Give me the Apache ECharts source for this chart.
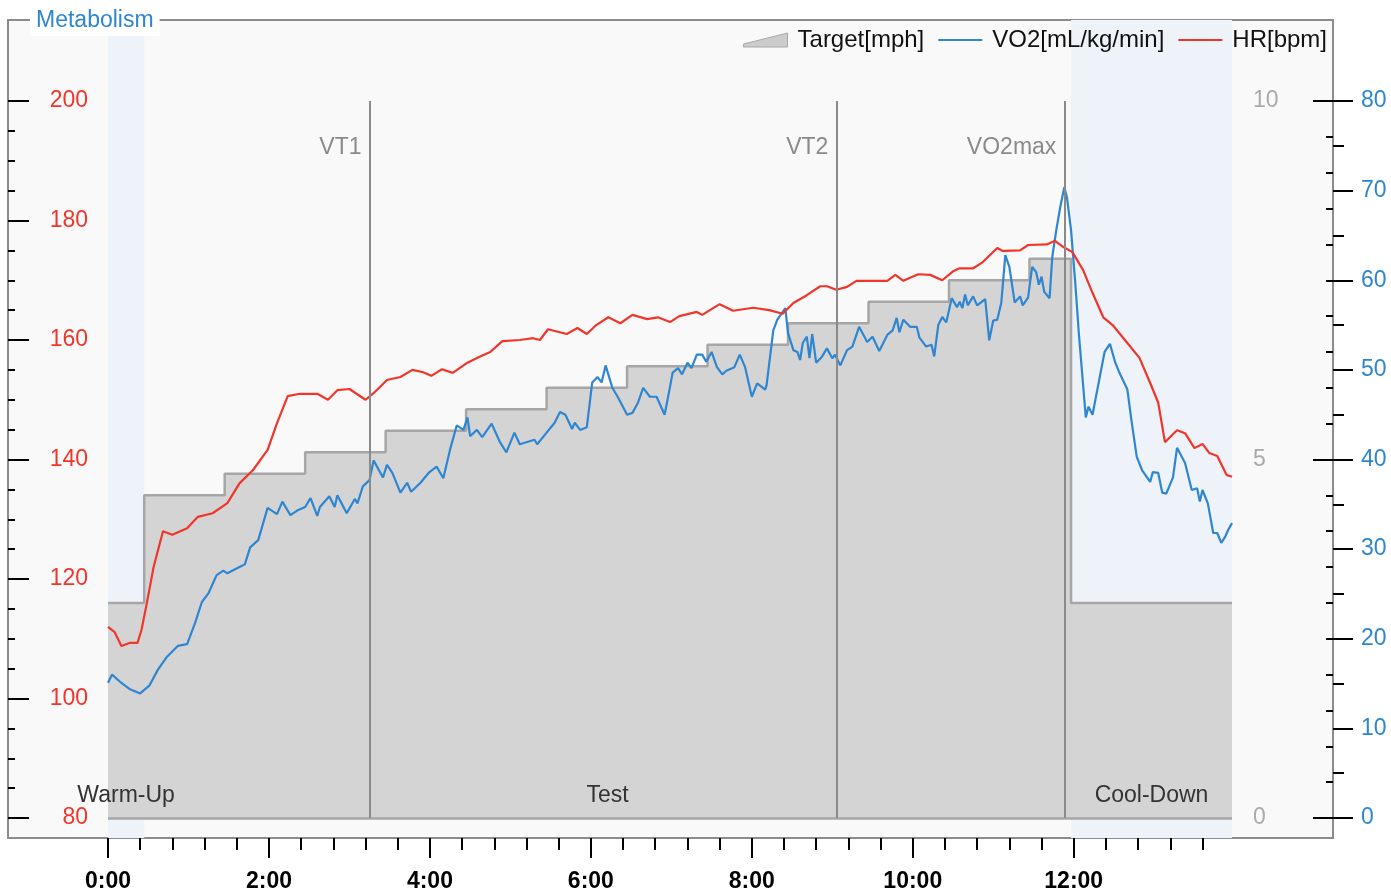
<!DOCTYPE html>
<html><head><meta charset="utf-8">
<script src="https://cdn.jsdelivr.net/npm/echarts@6/dist/echarts.min.js"></script>
<style>html,body{margin:0;padding:0;background:#fff}#c{width:1391px;height:893px}</style>
</head><body><div id="c"></div>
<script>
// ---------- DATA ----------
const T_MAX = 838; // seconds (13:58)
const xTickSeconds = [0, 120, 240, 360, 480, 600, 720];

const targetTimes  = [0, 27, 87, 147, 207, 267, 327, 387, 447, 507, 567, 627, 687, 718, 838];
const targetValues = [3.0, 4.5, 4.8, 5.1, 5.4, 5.7, 6.0, 6.3, 6.6, 6.9, 7.2, 7.5, 7.8, 3.0, 3.0];

const hrTimes = [0,5,10,16,22,25,29,34,41,48,59,67,78,89,98,108,119,126,134,143,156,164,171,180,192,198,208,218,227,235,241,249,257,268,277,285,294,307,317,322,328,342,350,357,364,373,382,391,402,410,419,426,439,443,456,466,481,493,503,511,521,531,536,543,551,558,581,587,593,604,613,622,630,635,645,652,663,667,680,686,700,706,712,719,727,734,742,749,760,769,777,783,788,797,803,810,816,821,827,834,838];
const hrValues = [112.0,111.1,108.8,109.3,109.3,111.5,116,122,128,127.4,128.5,130.4,131,132.7,136,138.2,141.6,146.1,150.6,151,151,150,151.6,151.8,150,151.1,153.3,153.8,155,154.6,154,155.1,154.5,156.2,157.2,158,159.8,160,160.3,160,161.8,161,162,161,162.5,163.8,162.8,164.2,163.5,163.8,163,164,164.7,164.2,166,164.9,165.4,165,164.4,166.2,167.5,169,169,168.4,168.9,169.9,169.9,170.9,169.9,171,170.9,170,171.5,172,172,173,175.4,174.9,175,175.9,176,176.6,175.6,174.7,171.7,167.9,163.8,162.5,159.5,157,152.8,149.5,142.9,144.9,144.4,141.9,142.6,141.1,140.6,137.4,137.1];

const vo2Times = [0,3,9,16,24,31,37,44,52,59,65,70,75,81,86,89,98,102,106,112,119,126,130,136,141,147,151,156,158,165,169,171,178,184,186,190,195,198,205,208,212,218,
223,226,233,239,245,250,255,260,265,268,270,275,279,286,292,297,303,307,318,320,327,333,337,341,346,348,352,357,361,365,368,371,376,380,387,391,395,399,404,409,415,419,421,425,
428,432,435,439,443,446,450,454,458,461,467,471,475,480,484,490,491,496,499,505,507,511,514,516,518,521,523,525,528,532,536,540,542,546,551,555,560,566,570,575,581,585,588,590,593,598,603,605,610,614,616,619,622,625,629,633,635,
637,639,641,645,648,654,657,660,663,666,669,672,676,680,682,686,689,692,694,696,698,702,704,707,710,713,715,718,721,724,729,731,734,738,743,747,751,754,760,763,767,771,777,779,783,786,789,794,797,803,808,812,814,816,820,824,827,830,833,835,838];
const vo2Values = [15.1,16.0,15.2,14.4,13.9,14.8,16.5,18.0,19.2,19.4,21.8,24.1,25.1,27.1,27.6,27.3,28.0,28.3,30.2,31.0,34.6,33.9,35.3,33.8,34.3,34.7,35.7,33.7,34.7,35.9,34.7,36.0,34.0,35.6,35.1,37.0,37.7,39.9,38.0,39.4,38.5,36.3,
37.4,36.4,37.4,38.5,39.2,37.9,41.1,43.8,43.3,44.7,42.6,43.3,42.5,44.0,42.0,40.8,43.0,41.7,42.2,41.7,43.0,44.1,45.3,45.0,43.4,44.1,43.3,43.6,48.6,49.2,48.6,50.5,48.0,47.0,45.0,45.2,46.3,48.0,47.0,47.0,45.0,48.1,49.7,50.2,
49.5,50.8,50.2,51.7,51.7,50.9,52.0,50.3,49.5,49.9,50.3,51.7,50.3,47.0,48.5,47.8,48.3,54.4,55.6,56.9,54.1,52.2,52.0,51.1,53.0,53.7,51.3,54.0,50.8,51.4,52.4,51.3,51.7,50.5,52.2,52.6,54.8,53.1,53.7,52.1,53.9,54.4,55.8,54.2,55.6,54.8,54.8,53.6,52.6,52.8,51.5,55.0,55.9,55.3,58.0,57.0,57.6,
56.9,58.4,57.2,58.2,57.2,57.9,53.3,55.5,55.6,57.5,62.8,61.5,57.5,58.2,57.2,58.1,61.5,60.9,59.5,60.4,58.7,58.0,62.6,65.6,68.2,70.4,69.2,65.6,60.0,53.7,44.7,45.9,45.0,48.1,52.0,52.9,50.8,49.7,47.8,44.4,40.3,38.8,37.5,38.6,38.5,36.3,36.2,38.0,41.3,39.6,36.6,36.8,35.3,36.6,35.1,31.8,31.8,30.7,31.4,32.1,32.9];

const markerNames = ['VT1', 'VT2', 'VO2max'];
const markerTimes = [195, 543, 713];

const phaseNames  = ['Warm-Up', 'Test', 'Cool-Down'];
const phaseStarts = [0, 27, 718];
const phaseEnds   = [27, 718, 838];
const shadedPhases = [0, 2];

// ---------- CHART ----------
const FONT = '"Liberation Sans", Arial, Helvetica, sans-serif';
const BLUE = '#2e86d1', RED = '#f2352a';
const pairs = (t, v) => t.map((x, i) => [x, v[i]]);
function fmt(v) { const m = Math.floor(v / 60), s = Math.round(v % 60); return m + ':' + (s < 10 ? '0' : '') + s; }
const xMinor = [];
for (let s = 24; s < T_MAX; s += 24) if (s % 120 !== 0) xMinor.push(s);

const tickLine = { color: '#000', width: 2 };
const chart = echarts.init(document.getElementById('c'), null, { renderer: 'canvas' });

const frameEl = { type: 'rect', id: 'frame', z: -100, silent: true,
  shape: { x: 8, y: 20, width: 1325, height: 818 },
  style: { fill: '#f9f9f9', stroke: '#8c8c8c', lineWidth: 2 } };

const lineIcon = 'path://M0,0 L44,0 L44,2 L0,2 Z';
const labelPad = [6, 0, 0, 0];
const clear = 'rgba(0,0,0,0)';

const option = {
  animation: false,
  textStyle: { fontFamily: FONT },
  title: { text: 'Metabolism', left: 30, top: 5, padding: [4, 6, 4, 6], backgroundColor: '#fff', z: 20,
    textStyle: { color: BLUE, fontSize: 23, fontWeight: 'normal', fontFamily: FONT } },
  legend: { right: 59, top: 23, itemWidth: 44, itemHeight: 14, itemGap: 14, symbolKeepAspect: true,
    textStyle: { fontSize: 24, color: '#111', padding: [0, 0, 0, 5] },
    data: [
      { name: 'Target[mph]', icon: 'path://M0,11 L44,0 L44,14 L0,14 Z', itemStyle: { color: '#cccccc', borderColor: '#a8a8a8', borderWidth: 1 } },
      { name: 'VO2[mL/kg/min]', icon: lineIcon, itemStyle: { color: BLUE } },
      { name: 'HR[bpm]', icon: lineIcon, itemStyle: { color: RED } }
    ] },
  grid: [
    { left: 108, right: 159, top: 101, bottom: 75 },   // data
    { left: 108, right: 159, top: 20, bottom: 55 },    // phase bands + time ticks
    { left: 8, right: 58, top: 101, bottom: 75 }       // visible value axes on frame
  ],
  xAxis: [
    { gridIndex: 0, type: 'value', min: 0, max: T_MAX, show: false },
    { gridIndex: 1, type: 'value', min: 0, max: T_MAX, position: 'bottom',
      axisLine: { show: false }, splitLine: { show: false },
      axisTick: { inside: false, customValues: xTickSeconds, length: 20, lineStyle: tickLine },
      axisLabel: { customValues: xTickSeconds, formatter: fmt, margin: 32, fontSize: 23, color: '#000', fontWeight: 'bold' } },
    { gridIndex: 1, type: 'value', min: 0, max: T_MAX, position: 'bottom',
      axisLine: { show: false }, splitLine: { show: false },
      axisTick: { inside: false, customValues: xMinor, length: 12, lineStyle: tickLine },
      axisLabel: { show: false } },
    { gridIndex: 2, type: 'value', min: 0, max: 1, show: false }
  ],
  yAxis: [
    { gridIndex: 0, type: 'value', min: 80, max: 200, show: false },
    { gridIndex: 0, type: 'value', min: 0, max: 80, show: false },
    { gridIndex: 0, type: 'value', min: 0, max: 10, show: false },
    { gridIndex: 1, type: 'value', min: 0, max: 1, show: false },
    { gridIndex: 2, type: 'value', position: 'left', min: 80, max: 200, interval: 20,
      axisLine: { show: false }, splitLine: { show: false },
      axisTick: { show: true, inside: true, length: 21, lineStyle: tickLine },
      minorTick: { show: true, splitNumber: 4, length: 7, lineStyle: tickLine },
      axisLabel: { inside: true, align: 'right', margin: 80, fontSize: 23, color: RED, padding: labelPad, backgroundColor: clear } },
    { gridIndex: 2, type: 'value', position: 'right', min: 0, max: 80, interval: 10,
      axisLine: { show: false }, splitLine: { show: false },
      axisTick: { show: true, inside: false, length: 20, lineStyle: tickLine },
      minorTick: { show: true, splitNumber: 2, length: 11, lineStyle: tickLine },
      axisLabel: { margin: 28, fontSize: 23, color: BLUE, padding: labelPad, backgroundColor: clear } },
    { gridIndex: 2, type: 'value', position: 'right', min: 0, max: 10, interval: 5,
      axisLine: { show: false }, splitLine: { show: false },
      axisTick: { show: true, inside: true, length: 20, lineStyle: tickLine },
      minorTick: { show: true, splitNumber: 10, length: 7, lineStyle: tickLine },
      axisLabel: { inside: true, align: 'left', margin: 80, fontSize: 23, color: '#aaaaaa', padding: labelPad, backgroundColor: clear } }
  ],
  graphic: [frameEl],
  series: [
    { name: 'bands', type: 'line', xAxisIndex: 1, yAxisIndex: 3, data: [[0, 0]], showSymbol: false, silent: true, z: 0,
      lineStyle: { opacity: 0 },
      markArea: { silent: true, z: 0, itemStyle: { color: '#eef2f9' },
        data: shadedPhases.map(i => [{ xAxis: phaseStarts[i] }, { xAxis: phaseEnds[i] }]) } },
    { name: 'Target[mph]', type: 'line', xAxisIndex: 0, yAxisIndex: 2, step: 'end', symbol: 'none', z: 2,
      data: pairs(targetTimes, targetValues),
      lineStyle: { color: '#a6a6a6', width: 2.5 }, itemStyle: { color: '#c8c8c8' },
      areaStyle: { color: '#d4d4d4', opacity: 1 },
      markLine: { silent: true, symbol: 'none', z: 5, label: { show: false },
        data: [{ yAxis: 0, lineStyle: { color: '#a6a6a6', width: 2.5, type: 'solid' } }]
          .concat(markerTimes.map(t => ({ xAxis: t, lineStyle: { color: '#8a8a8a', width: 2, type: 'solid' } }))) } },
    { name: 'phaseLabels', type: 'line', xAxisIndex: 1, yAxisIndex: 3, data: [[0, 0]], showSymbol: false, silent: true, z: 10,
      lineStyle: { opacity: 0 },
      markArea: { silent: true, z: 20, itemStyle: { color: clear },
        label: { show: true, position: 'insideBottom', distance: 31, fontSize: 23, color: '#333', fontFamily: FONT },
        data: phaseNames.map((n, i) => [{ name: n, xAxis: phaseStarts[i] }, { xAxis: phaseEnds[i] }]) } },
    { name: 'VO2[mL/kg/min]', type: 'line', xAxisIndex: 0, yAxisIndex: 1, symbol: 'none', z: 3,
      data: pairs(vo2Times, vo2Values), lineStyle: { color: BLUE, width: 2.2 }, itemStyle: { color: BLUE } },
    { name: 'HR[bpm]', type: 'line', xAxisIndex: 0, yAxisIndex: 0, symbol: 'none', z: 4,
      data: pairs(hrTimes, hrValues), lineStyle: { color: RED, width: 2.2 }, itemStyle: { color: RED } }
  ]
};
chart.setOption(option);

const markerEls = markerTimes.map((t, i) => ({
  type: 'text', id: 'mk' + i, z: 10, silent: true,
  x: chart.convertToPixel({ xAxisIndex: 0 }, t) - 8, y: 148,
  style: { text: markerNames[i], align: 'right', verticalAlign: 'middle', fill: '#8a8a8a', font: '23px ' + FONT }
}));
chart.setOption({ graphic: [frameEl].concat(markerEls) });
</script>
</body></html>
